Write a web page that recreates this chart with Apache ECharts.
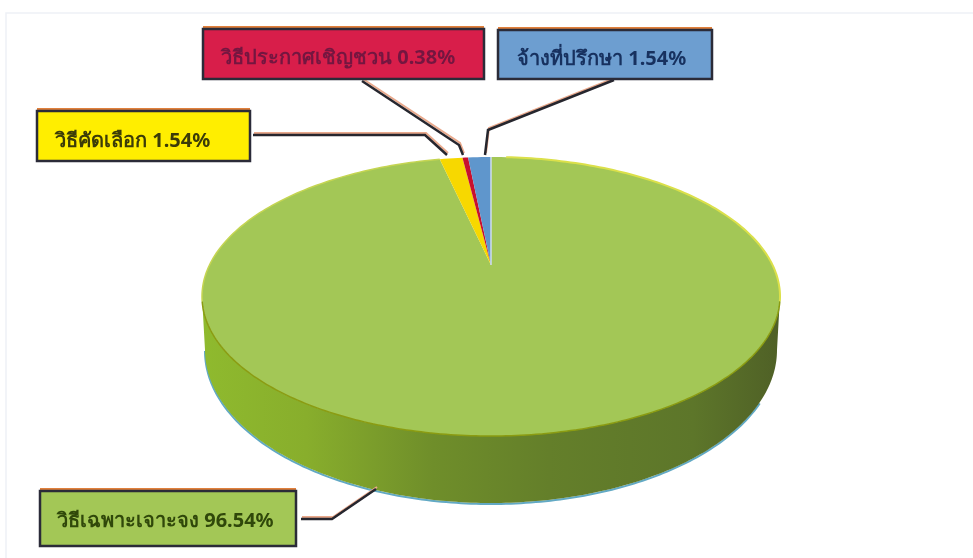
<!DOCTYPE html>
<html>
<head>
<meta charset="utf-8">
<style>
	html, body {margin:0; padding:0; background:#fff;}
	#main {width:973px; height:558px;}
</style>
<script src="https://cdn.jsdelivr.net/npm/echarts@6/dist/echarts.min.js"></script>
</head>
<body>
<div id="main"></div>
<script>
//data, clockwise from 12 o'clock
const categories = ['วิธีเฉพาะเจาะจง', 'วิธีคัดเลือก', 'วิธีประกาศเชิญชวน', 'จ้างที่ปรึกษา'];
const values = [96.54, 1.54, 0.38, 1.54];
const sliceColors = ['#a3c756', '#f7d800', '#c8102e', '#5f96cc'];
const boxColors = ['#a3c756', '#ffee00', '#d81e4a', '#6d9ed0'];
const textColors = ['#30480a', '#3c3c08', '#741640', '#17315f'];

//label layout: box [x, y, w, h], text [x, y], leader points
const boxes = [[40, 491, 256, 55], [37, 111, 213, 50], [203, 29, 281, 50], [498, 30, 214, 49]];
const textPos = [[57, 521], [55, 141], [221, 58], [517, 59]];
const leaders = [
	[[301, 519], [332, 519], [376, 489]],
	[[253, 135], [425, 135], [447, 155]],
	[[362, 81], [459, 145], [463, 155]],
	[[614, 80], [488, 130], [485, 155]]
];

//pie geometry
const topFace = {cx: 491, cy: 296.5, a: 289, b: 139.5};
const baseFace = {cx: 491, cy: 350, a: 286, b: 153};
const apex = [491, 265];
const warp = 0.82; //perspective squeeze of the slices at the back

//slice ranges on the ellipse, in degrees clockwise from the top
function sliceRanges() {
	const spans = values.map((v) => v * 3.6 * warp);
	spans[0] = 360 - spans.slice(1).reduce((s, v) => s + v, 0);
	let start = 0;
	return spans.map((span) => {
		const range = [start, start + span];
		start += span;
		return range;
	});
}

function ellipsePoint(face, deg) {
	const rad = deg * Math.PI / 180;
	return [face.cx + face.a * Math.sin(rad), face.cy - face.b * Math.cos(rad)];
}

function arcPoints(face, from, to) {
	const pts = [];
	const steps = Math.max(2, Math.ceil(Math.abs(to - from)));
	for (let i = 0; i <= steps; i++) {
		pts.push(ellipsePoint(face, from + (to - from) * i / steps));
	}
	return pts;
}

const ranges = sliceRanges();

function renderSlice(params) {
	const i = params.dataIndex;
	const range = ranges[i];
	const children = [];
	//only the front half of the pie shows its wall
	const from = Math.max(range[0], 90);
	const to = Math.min(range[1], 270);

	if (to > from) {
		children.push({
			type: 'polyline',
			shape: {points: arcPoints(baseFace, from + 20, to).map((p) => [p[0], p[1] + 1])},
			style: {fill: null, stroke: '#62a9c4', lineWidth: 2}
		});
		children.push({
			type: 'polygon',
			shape: {points: arcPoints(topFace, from, to).concat(arcPoints(baseFace, to, from))},
			style: {
				fill: {
					type: 'linear', x: 0, y: 0, x2: 1, y2: 0,
					colorStops: [
						{offset: 0, color: '#8fba2e'},
						{offset: 0.18, color: '#88ae2c'},
						{offset: 0.4, color: '#6f8e2a'},
						{offset: 0.6, color: '#647f2a'},
						{offset: 0.85, color: '#5d762a'},
						{offset: 1, color: '#4f6026'}
					]
				}
			}
		});
	}

	children.push({
		type: 'polygon',
		shape: {points: [apex].concat(arcPoints(topFace, range[0], range[1]))},
		style: {fill: sliceColors[i]}
	});

	if (i == 0) {
		//rim of the top face
		children.push({
			type: 'polyline',
			shape: {points: arcPoints(topFace, 3, 92)},
			style: {fill: null, stroke: '#dbe04a', lineWidth: 2}
		});
		children.push({
			type: 'polyline',
			shape: {points: arcPoints(topFace, 92, 268)},
			style: {fill: null, stroke: '#8b9c12', lineWidth: 1.5}
		});
		children.push({
			type: 'polyline',
			shape: {points: arcPoints(topFace, 268, range[1])},
			style: {fill: null, stroke: '#c5d552', lineWidth: 1.5}
		});
	}
	if (i == values.length - 1) {
		//pale edge where the last slice meets the first
		children.push({
			type: 'polyline',
			shape: {points: [apex, ellipsePoint(topFace, 0)]},
			style: {fill: null, stroke: '#cfdcf2', lineWidth: 1.5}
		});
	}
	return {type: 'group', children: children};
}

function renderLabel(params) {
	const i = params.dataIndex;
	const b = boxes[i];
	const line = leaders[i];
	return {
		type: 'group',
		children: [
			{
				type: 'polyline',
				shape: {points: line.map((p) => [p[0] + 1, p[1] - 2])},
				style: {fill: null, stroke: '#e9a98c', lineWidth: 2}
			},
			{
				type: 'polyline',
				shape: {points: line},
				style: {fill: null, stroke: '#26262e', lineWidth: 2.5}
			},
			{
				type: 'rect',
				shape: {x: b[0], y: b[1] - 3, width: b[2], height: b[3]},
				style: {fill: '#e0803c'}
			},
			{
				type: 'rect',
				shape: {x: b[0], y: b[1], width: b[2], height: b[3]},
				style: {fill: boxColors[i], stroke: '#2b2b38', lineWidth: 2.5}
			},
			{
				type: 'text',
				x: textPos[i][0],
				y: textPos[i][1],
				style: {
					text: categories[i] + ' ' + values[i].toFixed(2) + '%',
					fill: textColors[i],
					font: 'bold 20px "Noto Sans", "Liberation Sans", sans-serif',
					align: 'left',
					verticalAlign: 'middle'
				}
			}
		]
	};
}

var myChart = echarts.init(document.getElementById('main'));

var option = {
	animation: false,
	backgroundColor: '#fff',
	graphic: [{
		type: 'rect',
		silent: true,
		shape: {x: 6, y: 13, width: 980, height: 560},
		style: {fill: null, stroke: '#eef1f6', lineWidth: 1.5}
	}],
	series: [
		{
			type: 'custom',
			coordinateSystem: 'none',
			silent: true,
			renderItem: renderSlice,
			data: values
		},
		{
			type: 'custom',
			coordinateSystem: 'none',
			silent: true,
			renderItem: renderLabel,
			data: values
		}
	]
};

myChart.setOption(option);
</script>
</body>
</html>
